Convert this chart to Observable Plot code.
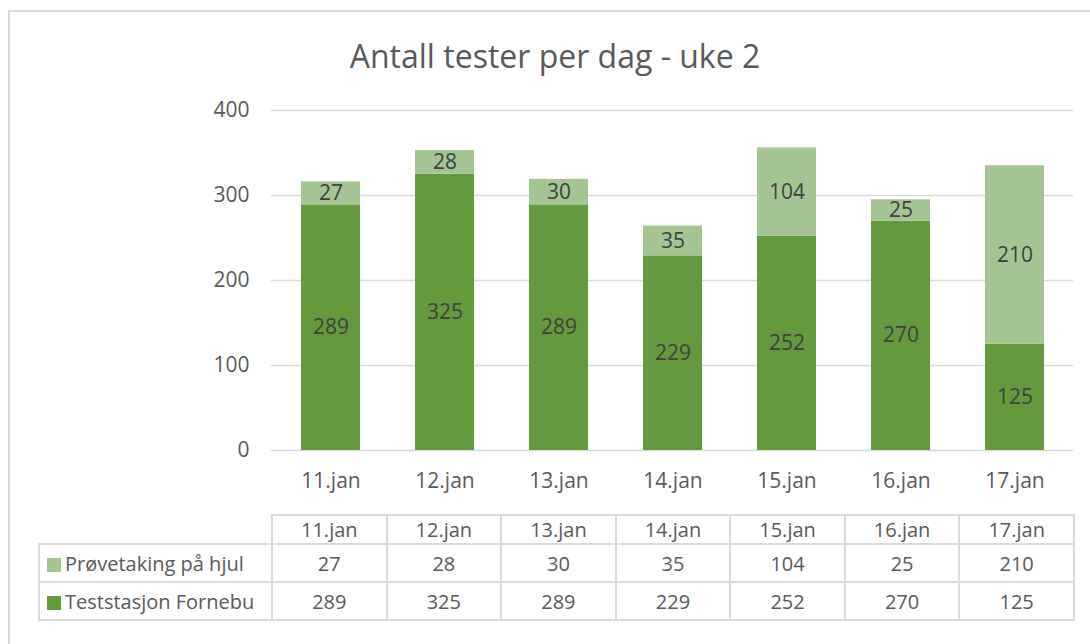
<!DOCTYPE html>
<html><head><meta charset="utf-8">
<script src="https://cdn.jsdelivr.net/npm/d3@7"></script>
<script src="https://cdn.jsdelivr.net/npm/@observablehq/plot@0.6"></script>
<style>
body{margin:0;background:#fff;font-family:"Open Sans",sans-serif;}
#wrap{position:relative;width:1090px;height:644px;overflow:hidden;background:#fff;}
#frame{position:absolute;left:8px;top:10px;width:1200px;height:800px;border-left:2px solid #d9d9d9;border-top:2px solid #d9d9d9;}
#title{position:absolute;left:0;top:34px;width:1110px;text-align:center;font-size:32px;color:#595959;line-height:44px;}
#chart{position:absolute;left:0;top:0;}
#tbl{position:absolute;left:38px;top:514px;border-collapse:collapse;table-layout:fixed;font-size:20px;color:#595959;}
#tbl td{border:2px solid #dadada;text-align:center;padding:0;white-space:nowrap;}
#tbl td.blank{border-top:none;border-left:none;}
#tbl td.leg{text-align:left;padding-left:7px;}
#tbl .sw{display:inline-block;width:14px;height:14px;margin-right:4px;vertical-align:-1px;}
</style></head>
<body>
<div id="wrap">
  <div id="frame"></div>
  <div id="title">Antall tester per dag - uke 2</div>
  <div id="chart"></div>
  <table id="tbl"></table>
</div>
<script>
const dates = ["11.jan","12.jan","13.jan","14.jan","15.jan","16.jan","17.jan"];
const provetaking = [27, 28, 30, 35, 104, 25, 210];
const teststasjon = [289, 325, 289, 229, 252, 270, 125];
const seriesNames = ["Prøvetaking på hjul", "Teststasjon Fornebu"];
const seriesColors = ["#a4c591", "#629a3d"];
const yTicks = [0, 100, 200, 300, 400];

// long format: bottom series first so it stacks at the base
const long = [];
dates.forEach((d, i) => long.push({date: d, series: seriesNames[1], value: teststasjon[i]}));
dates.forEach((d, i) => long.push({date: d, series: seriesNames[0], value: provetaking[i]}));

const chart = Plot.plot({
  width: 1090,
  height: 644,
  marginLeft: 271,
  marginRight: 17,
  marginTop: 110,
  marginBottom: 194,
  style: {fontFamily: "Open Sans", fontSize: "20px", color: "#595959", background: "transparent"},
  x: {domain: dates, paddingInner: 0.485, paddingOuter: 0.2425},
  y: {domain: [0, 400]},
  color: {domain: seriesNames, range: seriesColors},
  marks: [
    Plot.ruleY(yTicks, {stroke: "#d9d9d9", strokeWidth: 1.6}),
    Plot.barY(long, Plot.stackY({x: "date", y: "value", fill: "series"})),
    Plot.text(long, Plot.stackY({x: "date", y: "value", text: d => String(d.value), fill: "#404040", fontSize: 21})),
    Plot.axisY({ticks: yTicks, tickSize: 0, tickPadding: 22, label: null, fontSize: 21}),
    Plot.axisX({tickSize: 0, tickPadding: 23, label: null, fontSize: 21})
  ]
});
document.getElementById("chart").appendChild(chart);

// data table aligned to the x band scale
const xs = chart.scale("x");
const colW = (xs.range[1] - xs.range[0]) / dates.length;
const legW = xs.range[0] - 38;
const tbl = document.getElementById("tbl");
let html = `<colgroup><col style="width:${legW}px">` + dates.map(() => `<col style="width:${colW}px">`).join("") + `</colgroup>`;
html += `<tr style="height:29px"><td class="blank"></td>` + dates.map(d => `<td>${d}</td>`).join("") + `</tr>`;
const rows = [[seriesNames[0], seriesColors[0], provetaking], [seriesNames[1], seriesColors[1], teststasjon]];
rows.forEach(([name, col, vals]) => {
  html += `<tr style="height:38px"><td class="leg"><span class="sw" style="background:${col}"></span>${name}</td>` + vals.map(v => `<td>${v}</td>`).join("") + `</tr>`;
});
tbl.innerHTML = html;
</script>
</body></html>
